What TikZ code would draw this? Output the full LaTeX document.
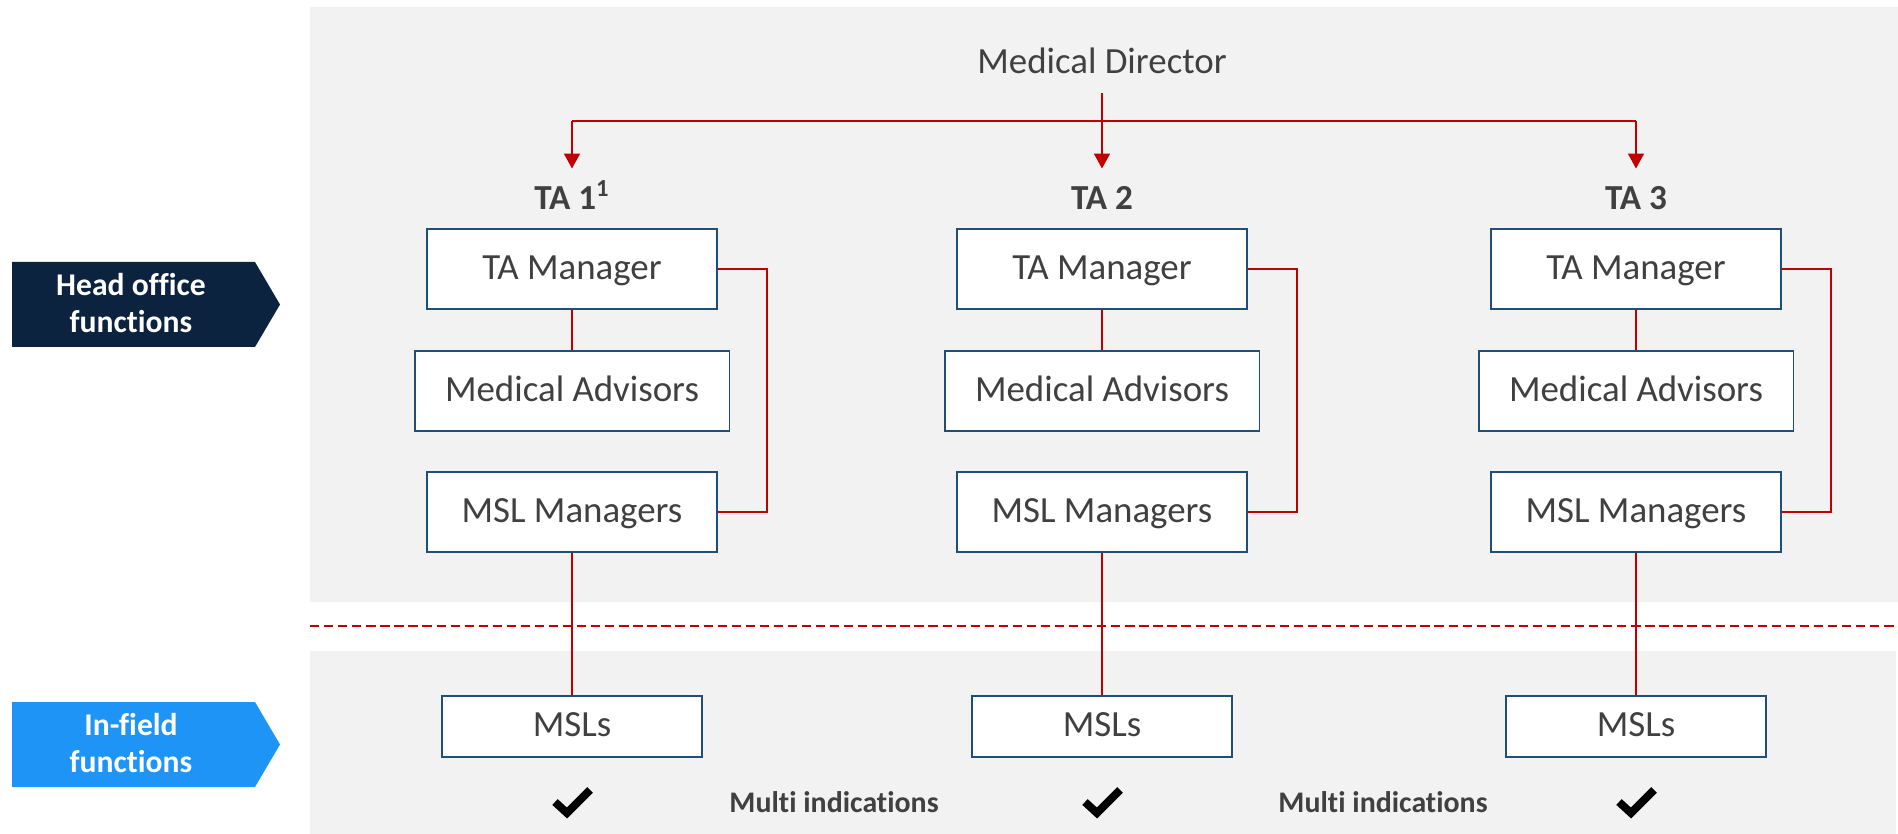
\documentclass[tikz,border=0pt]{standalone}
\usepackage{fontspec}
\setmainfont[Ligatures=NoCommon]{Carlito}
\usetikzlibrary{arrows.meta,positioning}

\definecolor{panelgray}{HTML}{F2F2F2}
\definecolor{linered}{HTML}{C00000}
\definecolor{boxblue}{HTML}{1F4E79}
\definecolor{txtgray}{HTML}{404040}
\definecolor{headnavy}{HTML}{0C2340}
\definecolor{fieldblue}{HTML}{1E94F6}

\tikzset{
  orgbox/.style={draw=boxblue, line width=1.1pt, fill=white, text=txtgray,
    font=\fontsize{21}{25}\selectfont, minimum width=5.8cm, minimum height=1.6cm, inner sep=0pt,
    text height=15pt, text depth=3.6pt},
  redline/.style={draw=linered, line width=1.2pt},
  tip/.style={-{Triangle[width=9pt,length=8.5pt]}},
  tahead/.style={anchor=base, text=txtgray, font=\bfseries\fontsize{20}{24}\selectfont,
    text height=13pt, inner sep=3pt},
  sidelabel/.style={text=white, align=center, font=\bfseries\fontsize{18}{21}\selectfont},
  multi/.style={anchor=base, text=txtgray, font=\bfseries\fontsize{17}{20}\selectfont},
  tickmark/.style={draw=black, line width=4.5pt, miter limit=10}
}

\begin{document}
\begin{tikzpicture}[x=0.02cm, y=-0.02cm]
		% Background and panels
		\useasboundingbox (0,0) rectangle (1898,834);
		\fill[white] (0,0) rectangle (1898,834);
		\fill[panelgray] (310,7) rectangle (1898,602);
		\fill[panelgray] (310,651) rectangle (1896,834);
		\draw[linered, line width=1.1pt, dash pattern=on 5.3pt off 2.7pt] (310,626) -- (1898,626); % divider

		% Side labels
		\fill[headnavy] (12,262) -- (255,262) -- (280,304.5) -- (255,347) -- (12,347) -- cycle;
		\node[sidelabel] (head) at (131,303) {Head office\\functions};
		\fill[fieldblue] (12,702) -- (255,702) -- (280,744.5) -- (255,787) -- (12,787) -- cycle;
		\node[sidelabel] (field) at (131,743) {In-field\\functions};

		% Director and TA heads
		\node[anchor=base, text=txtgray, font=\fontsize{21}{25}\selectfont, inner sep=0pt, text depth=0pt] (md) at (1102,74) {Medical Director};
		\node[tahead] (ta1) at (572,210) {TA 1\textsuperscript{1}};
		\node[tahead] (ta2) at (1102,210) {TA 2};
		\node[tahead] (ta3) at (1636,210) {TA 3};
		\coordinate (bus) at (1102,121);
		\draw[redline] (ta1.north |- bus) -- (ta3.north |- bus);
		\draw[redline, tip, shorten <=10.8pt, shorten >=7.4pt] (md.south) -- (ta2.north);
		\draw[redline, tip, shorten >=7.4pt] (ta1.north |- bus) -- (ta1.north);
		\draw[redline, tip, shorten >=7.4pt] (ta3.north |- bus) -- (ta3.north);

		% TA 1
		\node[orgbox] (tm1) at (572,269) {TA Manager};
		\node[orgbox, minimum width=6.3cm] (ma1) at (572,391) {Medical Advisors};
		\node[orgbox] (mm1) at (572,512) {MSL Managers};
		\node[orgbox, minimum width=5.2cm, minimum height=1.22cm] (msl1) at (572,726.5) {MSLs};
		\draw[redline] (tm1) -- (ma1);
		\draw[redline] (tm1.east) -- ++(49,0) |- (mm1.east);
		\draw[redline] (mm1) -- (msl1);

		% TA 2
		\node[orgbox] (tm2) at (1102,269) {TA Manager};
		\node[orgbox, minimum width=6.3cm] (ma2) at (1102,391) {Medical Advisors};
		\node[orgbox] (mm2) at (1102,512) {MSL Managers};
		\node[orgbox, minimum width=5.2cm, minimum height=1.22cm] (msl2) at (1102,726.5) {MSLs};
		\draw[redline] (tm2) -- (ma2);
		\draw[redline] (tm2.east) -- ++(49,0) |- (mm2.east);
		\draw[redline] (mm2) -- (msl2);

		% TA 3
		\node[orgbox] (tm3) at (1636,269) {TA Manager};
		\node[orgbox, minimum width=6.3cm] (ma3) at (1636,391) {Medical Advisors};
		\node[orgbox] (mm3) at (1636,512) {MSL Managers};
		\node[orgbox, minimum width=5.2cm, minimum height=1.22cm] (msl3) at (1636,726.5) {MSLs};
		\draw[redline] (tm3) -- (ma3);
		\draw[redline] (tm3.east) -- ++(49,0) |- (mm3.east);
		\draw[redline] (mm3) -- (msl3);

		% Ticks and indications
		\draw[tickmark] (555,802) -- ++(12,11) -- ++(23,-23);
		\draw[tickmark] (1085,802) -- ++(12,11) -- ++(23,-23);
		\draw[tickmark] (1619,802) -- ++(12,11) -- ++(23,-23);
		\node[multi] (mi1) at (834,812) {Multi indications};
		\node[multi] (mi2) at (1383,812) {Multi indications};
	\end{tikzpicture}
\end{document}
